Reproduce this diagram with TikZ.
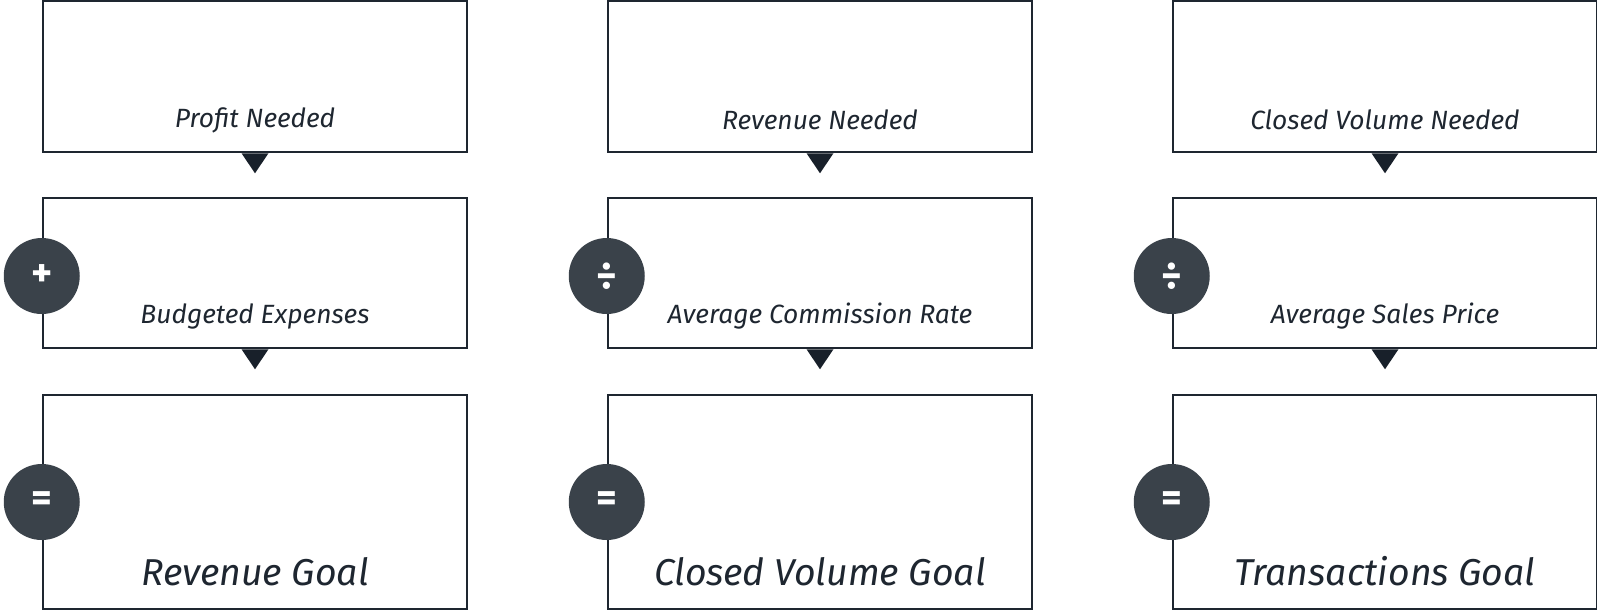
\documentclass[tikz,border=0pt]{standalone}
\usepackage{fontspec}
\setmainfont{Fira Sans}
\usetikzlibrary{calc}
\usetikzlibrary{positioning}

\definecolor{edgec}{HTML}{1E2630}
\definecolor{opfill}{HTML}{3A424A}
\definecolor{tipc}{HTML}{18202A}

\tikzset{
  goalbox/.style={draw=edgec,line width=1.25pt,minimum width=212pt,inner sep=0pt},
  smalltxt/.style={text=edgec,font=\fontsize{13.2}{15}\selectfont\itshape,inner sep=0pt},
  bigtxt/.style={text=edgec,font=\fontsize{18.7}{22}\selectfont\itshape,inner sep=0pt},
  opdisc/.style={circle,fill=opfill,minimum size=38pt,inner sep=0pt,text=white,font=\fontsize{20}{22}\selectfont\bfseries},
  tipfill/.style={fill=tipc}
}

\begin{document}
\begin{tikzpicture}[x=0.5pt,y=-0.5pt]
\useasboundingbox (0,0) rectangle (1597,611);
% colonnes
\foreach \c/\x/\ta/\tb/\tc/\op in {
  1/255/Profit Needed/Budgeted Expenses/Revenue Goal/+,
  2/820/Revenue Needed/Average Commission Rate/Closed Volume Goal/÷,
  3/1385/Closed Volume Needed/Average Sales Price/Transactions Goal/÷}
{
  % boites
  \node[goalbox,minimum height=75.5pt] (b1\c) at (\x,76.5) {};
  \node[goalbox,minimum height=75pt] (b2\c) at (\x,273) {};
  \node[goalbox,minimum height=107pt] (b3\c) at (\x,502) {};
  % textes
  \node[smalltxt] (t1\c) at ([yshift=16.5pt]b1\c.south) {\ta};
  \node[smalltxt] (t2\c) at ([yshift=16.5pt]b2\c.south) {\tb};
  \node[bigtxt] (t3\c) at ([yshift=19.5pt]b3\c.south) {\tc};
  % pointes
  \fill[tipfill] ($(b1\c.south)+(-13.5,0)$) -- ++(27,0) -- ($(b1\c.south)+(0,20)$) -- cycle;
  \fill[tipfill] ($(b2\c.south)+(-13.5,0)$) -- ++(27,0) -- ($(b2\c.south)+(0,20)$) -- cycle;
  % operateurs
  \node[opdisc] (o2\c) at ([yshift=-1.5pt]b2\c.west) {\op};
  \node[opdisc] (o3\c) at (b3\c.west) {=};
}
\end{tikzpicture}
\end{document}
